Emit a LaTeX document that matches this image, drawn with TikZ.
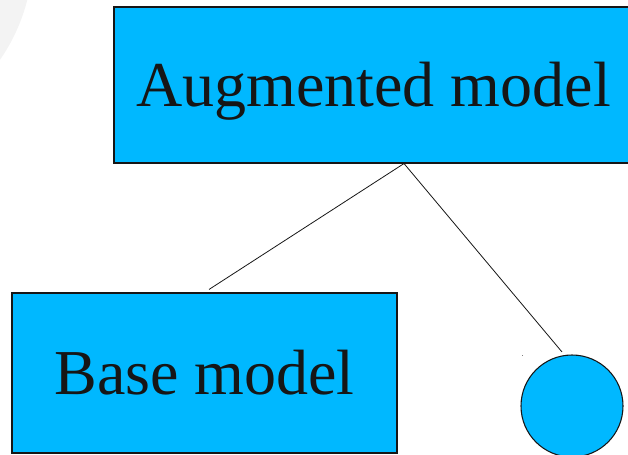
\documentclass[tikz,border=0pt]{standalone}
\usepackage{fontspec}
\setmainfont{Liberation Serif}
\definecolor{boxblue}{RGB}{0,184,255}
\definecolor{inkdark}{RGB}{22,22,22}
\definecolor{haze}{RGB}{243,243,243}
\tikzset{
  modelbox/.style={draw=inkdark, line width=0.8pt, fill=boxblue, rectangle,
    inner sep=0pt, text=inkdark, font=\fontsize{48}{56}\selectfont,
    text height=31.7pt, text depth=0pt},
  leafdot/.style={draw=inkdark, line width=0.8pt, fill=boxblue, circle, inner sep=0pt},
  link/.style={draw=inkdark, line width=0.6pt}
}
\begin{document}
\begin{tikzpicture}[x=0.75pt, y=-0.75pt]
  \useasboundingbox (0,0) rectangle (628,454);
  \clip (0,0) rectangle (628,454);
  % faint background disc in the corner
  \fill[haze] (-153,-46) circle (186);
  % boxes
  \node[modelbox, minimum width=519*0.75pt, minimum height=156*0.75pt] (aug) at (373.5,85) {Augmented model};
  \node[modelbox, minimum width=385*0.75pt, minimum height=160*0.75pt] (base) at (204.5,373) {Base model};
  \node[leafdot, minimum size=102*0.75pt] (leaf) at (572,406) {};
  % connectors
  \coordinate (fork) at ([xshift=30.5*0.75pt]aug.south);
  \coordinate (baseend) at ([xshift=4.5*0.75pt, yshift=3*0.75pt]base.north);
  \coordinate (leafend) at ([xshift=-10*0.75pt, yshift=2.5*0.75pt]leaf.north);
  \draw[link] (fork) -- (baseend);
  \draw[link] (fork) -- (leafend);
  % small speck left of the circle
  \fill[gray] (521.5,354.5) rectangle (523,356);
\end{tikzpicture}
\end{document}
